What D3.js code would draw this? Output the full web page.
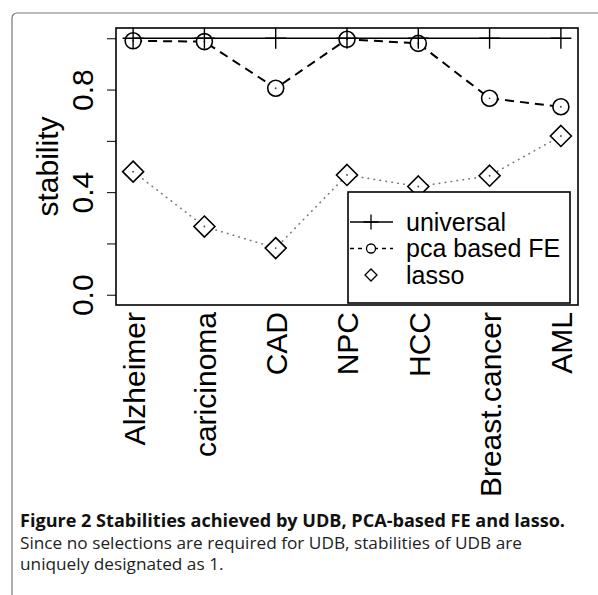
<!DOCTYPE html>
<html>
<head>
<meta charset="utf-8">
<script src="https://cdn.jsdelivr.net/npm/d3@7"></script>
<style>
  body { margin: 0; background: #fff; }
  svg { display: block; }
</style>
</head>
<body>
<script>
// data
const diseases = ["Alzheimer", "caricinoma", "CAD", "NPC", "HCC", "Breast.cancer", "AML"];
const universal = [1, 1, 1, 1, 1, 1, 1];
const pcaFE = [0.99, 0.987, 0.805, 0.996, 0.98, 0.766, 0.733];
const lasso = [0.48, 0.266, 0.182, 0.467, 0.422, 0.464, 0.619];
const yTicks = [0, 0.2, 0.4, 0.6, 0.8, 1.0];
const yLabelled = [0, 0.4, 0.8];
const legendNames = ["universal", "pca based FE", "lasso"];
const captionTitle = "Figure 2 Stabilities achieved by UDB, PCA-based FE and lasso.";
const captionLines = ["Since no selections are required for UDB, stabilities of UDB are",
                      "uniquely designated as 1."];

const W = 598, H = 595;
const box = {left: 116, top: 28, right: 578, bottom: 305};

const svg = d3.select("body").append("svg")
  .attr("width", W)
  .attr("height", H);

// outer figure frame (rounded corner top left)
svg.append("rect")
  .attr("x", 12).attr("y", 13)
  .attr("width", 620).attr("height", 620)
  .attr("rx", 5)
  .attr("fill", "none")
  .attr("stroke", "#777")
  .attr("stroke-width", 1.2);

const x = d3.scalePoint()
  .domain(diseases)
  .range([box.left, box.right])
  .padding(0.24);

const y = d3.scaleLinear()
  .domain([-0.04, 1.04])
  .range([box.bottom, box.top]);

const font = "'Liberation Sans', Arial, sans-serif";

// y axis
const yAxis = svg.append("g")
  .attr("transform", `translate(${box.left},0)`)
  .call(d3.axisLeft(y).tickValues(yTicks).tickSize(9)
    .tickFormat(d => yLabelled.some(v => Math.abs(v - d) < 1e-9) ? d3.format(".1f")(d) : ""));
yAxis.select(".domain").remove();
yAxis.selectAll("line").attr("stroke", "#000").attr("stroke-width", 1);
yAxis.selectAll("text")
  .attr("x", null).attr("dy", null)
  .attr("text-anchor", "middle")
  .attr("transform", "translate(-23,0) rotate(-90)")
  .attr("font-family", font)
  .attr("font-size", 30)
  .attr("fill", "#000");

svg.append("text")
  .attr("transform", `translate(58,${(box.top + box.bottom) / 2}) rotate(-90)`)
  .attr("text-anchor", "middle")
  .attr("font-family", font)
  .attr("font-size", 30)
  .text("stability");

// x labels, vertical
svg.append("g").selectAll("text")
  .data(diseases)
  .join("text")
  .attr("transform", d => `translate(${x(d)},${box.bottom + 7}) rotate(-90)`)
  .attr("text-anchor", "end")
  .attr("dy", "0.38em")
  .attr("font-family", font)
  .attr("font-size", 30)
  .text(d => d);

// plot box
svg.append("rect")
  .attr("x", box.left).attr("y", box.top)
  .attr("width", box.right - box.left)
  .attr("height", box.bottom - box.top)
  .attr("fill", "none")
  .attr("stroke", "#000")
  .attr("stroke-width", 1.6);

const line = d3.line()
  .x((d, i) => x(diseases[i]))
  .y(d => y(d));

// lasso: dotted grey
svg.append("path")
  .datum(lasso)
  .attr("d", line)
  .attr("fill", "none")
  .attr("stroke", "#777")
  .attr("stroke-width", 1.6)
  .attr("stroke-linecap", "round")
  .attr("stroke-dasharray", "0.5,5.5");

// pca based FE: dashed
svg.append("path")
  .datum(pcaFE)
  .attr("d", line)
  .attr("fill", "none")
  .attr("stroke", "#000")
  .attr("stroke-width", 2)
  .attr("stroke-dasharray", "9,6");

const diamond = r => `M0,${-r}L${r},0L0,${r}L${-r},0Z`;

svg.append("g").selectAll("path")
  .data(lasso)
  .join("path")
  .attr("transform", (d, i) => `translate(${x(diseases[i])},${y(d)})`)
  .attr("d", diamond(10.5))
  .attr("fill", "#fff")
  .attr("stroke", "#000")
  .attr("stroke-width", 1.6);

svg.append("g").selectAll("circle")
  .data(pcaFE)
  .join("circle")
  .attr("cx", (d, i) => x(diseases[i]))
  .attr("cy", d => y(d))
  .attr("r", 8)
  .attr("fill", "#fff")
  .attr("stroke", "#000")
  .attr("stroke-width", 1.6);

// tiny centre dots seen inside the open symbols
svg.append("g").selectAll("circle")
  .data(lasso.map((d, i) => [i, d]).concat(pcaFE.map((d, i) => [i, d])))
  .join("circle")
  .attr("cx", d => x(diseases[d[0]]))
  .attr("cy", d => y(d[1]))
  .attr("r", 0.9)
  .attr("fill", "#444");

// universal: solid line with plus markers
svg.append("path")
  .datum(universal)
  .attr("d", line)
  .attr("fill", "none")
  .attr("stroke", "#000")
  .attr("stroke-width", 1.3);

const plus = r => `M${-r},0H${r}M0,${-r}V${r}`;
svg.append("g").selectAll("path")
  .data(universal)
  .join("path")
  .attr("transform", (d, i) => `translate(${x(diseases[i])},${y(d)})`)
  .attr("d", plus(10.5))
  .attr("fill", "none")
  .attr("stroke", "#000")
  .attr("stroke-width", 1.4);

// legend
const lg = {x: 348, y: 192, w: 222, h: 111};
svg.append("rect")
  .attr("x", lg.x).attr("y", lg.y)
  .attr("width", lg.w).attr("height", lg.h)
  .attr("fill", "#fff")
  .attr("stroke", "#000")
  .attr("stroke-width", 1.6);

const legendRows = [222, 248.5, 275];
const sx = 371;
const leg = svg.append("g");

leg.append("line")
  .attr("x1", lg.x + 2).attr("x2", 393)
  .attr("y1", legendRows[0]).attr("y2", legendRows[0])
  .attr("stroke", "#000").attr("stroke-width", 1.3);
leg.append("path")
  .attr("transform", `translate(${sx},${legendRows[0]})`)
  .attr("d", plus(7.5))
  .attr("stroke", "#000").attr("stroke-width", 1.3);

leg.append("line")
  .attr("x1", lg.x + 2).attr("x2", 393)
  .attr("y1", legendRows[1]).attr("y2", legendRows[1])
  .attr("stroke", "#000").attr("stroke-width", 1.4)
  .attr("stroke-dasharray", "4,4");
leg.append("circle")
  .attr("cx", sx).attr("cy", legendRows[1]).attr("r", 4.5)
  .attr("fill", "#fff").attr("stroke", "#000").attr("stroke-width", 1.3);

leg.append("path")
  .attr("transform", `translate(${sx},${legendRows[2]})`)
  .attr("d", diamond(6))
  .attr("fill", "#fff").attr("stroke", "#000").attr("stroke-width", 1.3);

leg.selectAll("text")
  .data(legendNames)
  .join("text")
  .attr("x", 406)
  .attr("y", (d, i) => legendRows[i])
  .attr("dy", "0.35em")
  .attr("font-family", font)
  .attr("font-size", 25)
  .text(d => d);

// caption
const capFont = "'Open Sans', 'Noto Sans', sans-serif";
svg.append("text")
  .attr("x", 20).attr("y", 527)
  .attr("font-family", capFont)
  .attr("font-weight", "bold")
  .attr("font-size", 17)
  .attr("fill", "#111")
  .attr("textLength", 545)
  .attr("lengthAdjust", "spacingAndGlyphs")
  .text(captionTitle);

const l2 = svg.append("text")
  .attr("x", 20).attr("y", 549)
  .attr("font-family", capFont)
  .attr("font-size", 15.5)
  .attr("fill", "#222")
  .text(captionLines[0]);
const l3 = svg.append("text")
  .attr("x", 20).attr("y", 570)
  .attr("font-family", capFont)
  .attr("font-size", 15.5)
  .attr("fill", "#222")
  .text(captionLines[1]);
const k = 502 / l2.node().getComputedTextLength();
l2.attr("textLength", 502).attr("lengthAdjust", "spacingAndGlyphs");
l3.attr("textLength", l3.node().getComputedTextLength() * k).attr("lengthAdjust", "spacingAndGlyphs");
</script>
</body>
</html>
